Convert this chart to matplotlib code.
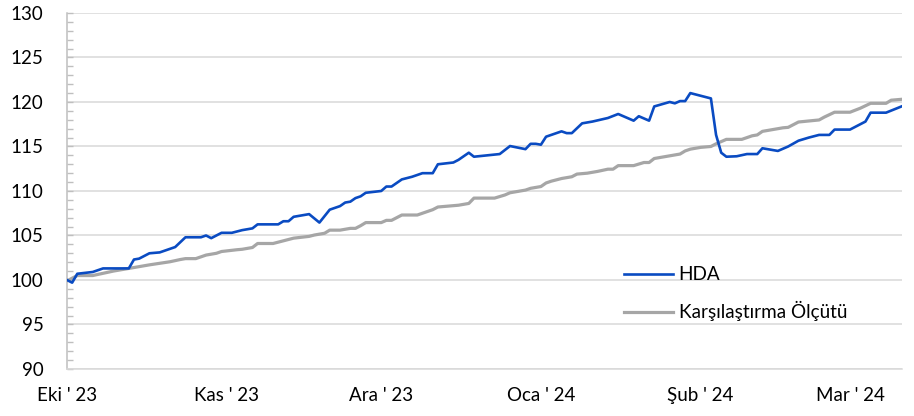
import matplotlib
matplotlib.use("Agg")
import matplotlib.pyplot as plt
import matplotlib.dates as mdates
import pandas as pd
from matplotlib.ticker import MultipleLocator

plt.rcParams['font.family'] = ['Lato', 'DejaVu Sans']

hda_dates = ["2023-10-01", "2023-10-02", "2023-10-03", "2023-10-06", "2023-10-08", "2023-10-13",
             "2023-10-14", "2023-10-15", "2023-10-17", "2023-10-19", "2023-10-20", "2023-10-22",
             "2023-10-24", "2023-10-27", "2023-10-28", "2023-10-29", "2023-10-31", "2023-11-02",
             "2023-11-03", "2023-11-04", "2023-11-06", "2023-11-07", "2023-11-11", "2023-11-12",
             "2023-11-13", "2023-11-14", "2023-11-17", "2023-11-19", "2023-11-21", "2023-11-23",
             "2023-11-24", "2023-11-25", "2023-11-26", "2023-11-27", "2023-11-28", "2023-12-01",
             "2023-12-02", "2023-12-03", "2023-12-05", "2023-12-07", "2023-12-09", "2023-12-11",
             "2023-12-12", "2023-12-15", "2023-12-16", "2023-12-18", "2023-12-19", "2023-12-24",
             "2023-12-26", "2023-12-29", "2023-12-30", "2023-12-31", "2024-01-01", "2024-01-02",
             "2024-01-03", "2024-01-05", "2024-01-06", "2024-01-07", "2024-01-09", "2024-01-11",
             "2024-01-14", "2024-01-16", "2024-01-19", "2024-01-20", "2024-01-22", "2024-01-23",
             "2024-01-26", "2024-01-27", "2024-01-28", "2024-01-29", "2024-01-30", "2024-02-03",
             "2024-02-04", "2024-02-05", "2024-02-06", "2024-02-08", "2024-02-10", "2024-02-12",
             "2024-02-13", "2024-02-16", "2024-02-18", "2024-02-20", "2024-02-22", "2024-02-24",
             "2024-02-26", "2024-02-27", "2024-03-01", "2024-03-03", "2024-03-04", "2024-03-05",
             "2024-03-08", "2024-03-11"]
hda_values = [100.0, 99.7, 100.7, 100.9, 101.3, 101.3,
              102.3, 102.4, 103.0, 103.1, 103.3, 103.7,
              104.8, 104.8, 105.0, 104.7, 105.3, 105.3,
              105.45, 105.6, 105.8, 106.25, 106.25, 106.6,
              106.6, 107.1, 107.4, 106.45, 107.9, 108.3,
              108.7, 108.8, 109.2, 109.4, 109.8, 110.0,
              110.5, 110.5, 111.3, 111.6, 112.0, 112.0,
              113.0, 113.2, 113.5, 114.3, 113.85, 114.15,
              115.05, 114.7, 115.3, 115.3, 115.2, 116.1,
              116.3, 116.7, 116.5, 116.5, 117.6, 117.8,
              118.2, 118.65, 117.9, 118.4, 117.9, 119.5,
              120.0, 119.85, 120.1, 120.1, 121.0, 120.4,
              116.3, 114.3, 113.85, 113.9, 114.15, 114.15,
              114.8, 114.5, 115.0, 115.65, 116.0, 116.3,
              116.3, 116.9, 116.9, 117.5, 117.8, 118.8,
              118.8, 119.5]

bm_dates = ["2023-10-01", "2023-10-03", "2023-10-06", "2023-10-08", "2023-10-10", "2023-10-13",
            "2023-10-15", "2023-10-17", "2023-10-21", "2023-10-23", "2023-10-24", "2023-10-26",
            "2023-10-28", "2023-10-30", "2023-10-31", "2023-11-03", "2023-11-04", "2023-11-06",
            "2023-11-07", "2023-11-10", "2023-11-12", "2023-11-14", "2023-11-17", "2023-11-18",
            "2023-11-20", "2023-11-21", "2023-11-23", "2023-11-25", "2023-11-26", "2023-11-27",
            "2023-11-28", "2023-12-01", "2023-12-02", "2023-12-03", "2023-12-05", "2023-12-08",
            "2023-12-10", "2023-12-11", "2023-12-12", "2023-12-14", "2023-12-16", "2023-12-18",
            "2023-12-19", "2023-12-23", "2023-12-25", "2023-12-26", "2023-12-29", "2023-12-30",
            "2024-01-01", "2024-01-02", "2024-01-03", "2024-01-05", "2024-01-07", "2024-01-08",
            "2024-01-10", "2024-01-12", "2024-01-14", "2024-01-15", "2024-01-16", "2024-01-19",
            "2024-01-21", "2024-01-22", "2024-01-23", "2024-01-25", "2024-01-27", "2024-01-28",
            "2024-01-29", "2024-01-30", "2024-02-01", "2024-02-03", "2024-02-04", "2024-02-06",
            "2024-02-09", "2024-02-11", "2024-02-12", "2024-02-13", "2024-02-15", "2024-02-16",
            "2024-02-17", "2024-02-18", "2024-02-20", "2024-02-24", "2024-02-25", "2024-02-27",
            "2024-03-01", "2024-03-03", "2024-03-05", "2024-03-08", "2024-03-09", "2024-03-11"]
bm_values = [99.9, 100.5, 100.5, 100.75, 101.0, 101.3,
             101.5, 101.7, 102.05, 102.3, 102.4, 102.4,
             102.8, 103.0, 103.2, 103.4, 103.45, 103.65,
             104.1, 104.1, 104.4, 104.7, 104.9, 105.05,
             105.25, 105.6, 105.6, 105.8, 105.8, 106.1,
             106.45, 106.45, 106.7, 106.7, 107.3, 107.3,
             107.7, 107.9, 108.2, 108.3, 108.4, 108.6,
             109.2, 109.2, 109.55, 109.8, 110.1, 110.3,
             110.5, 110.9, 111.1, 111.4, 111.6, 111.9,
             112.0, 112.2, 112.45, 112.45, 112.85, 112.85,
             113.2, 113.2, 113.65, 113.85, 114.05, 114.15,
             114.5, 114.7, 114.9, 115.0, 115.3, 115.8,
             115.8, 116.2, 116.3, 116.7, 116.9, 117.0,
             117.1, 117.15, 117.75, 117.98, 118.3, 118.85,
             118.85, 119.3, 119.85, 119.85, 120.2, 120.3]

tick_dates = ["2023-10-01", "2023-11-01", "2023-12-01", "2024-01-01", "2024-02-01", "2024-03-01"]
tick_labels = ["Eki ' 23", "Kas ' 23", "Ara ' 23", "Oca ' 24", "Şub ' 24", "Mar ' 24"]
series_names = ["HDA", "Karşılaştırma Ölçütü"]

fig = plt.figure(figsize=(9.14, 4.16), dpi=100)
ax = fig.add_axes([0.0733, 0.113, 0.9136, 0.8558])

ax.plot(pd.to_datetime(hda_dates), hda_values, color='#0A4BC2', lw=1.9,
        label=series_names[0], solid_joinstyle='round', zorder=3)
ax.plot(pd.to_datetime(bm_dates), bm_values, color='#A6A6A6', lw=2.3,
        label=series_names[1], solid_joinstyle='round', zorder=2)

start = pd.Timestamp("2023-10-01")
ax.set_xlim(mdates.date2num(start), mdates.date2num(start) + 162.1)
ax.set_ylim(90, 130)
ax.yaxis.set_major_locator(MultipleLocator(5))
ax.yaxis.set_minor_locator(MultipleLocator(1))
ax.grid(axis='y', which='major', color='#D9D9D9', lw=1.1)
ax.set_axisbelow(True)

ax.set_xticks(mdates.date2num(pd.to_datetime(tick_dates)))
ax.set_xticklabels(tick_labels)
ax.tick_params(axis='x', length=0, pad=13, labelsize=13.5, colors='black')
ax.tick_params(axis='y', which='both', direction='in', color='#BFBFBF', labelsize=13.5, pad=17)
ax.tick_params(axis='y', which='major', length=4, width=1)
ax.tick_params(axis='y', which='minor', length=4, width=1)

for s in ['top', 'right']:
    ax.spines[s].set_visible(False)
ax.spines['left'].set_color('#BFBFBF')
ax.spines['bottom'].set_color('#D9D9D9')
ax.spines['left'].set_linewidth(1.1)
ax.spines['bottom'].set_linewidth(1.1)

leg = ax.legend(loc='center left', bbox_to_anchor=(0.667, 0.211), frameon=False,
                fontsize=13.6, handlelength=2.6, handletextpad=0.3, labelspacing=0.95,
                borderpad=0, borderaxespad=0)

fig.savefig("out.png", dpi=100)
